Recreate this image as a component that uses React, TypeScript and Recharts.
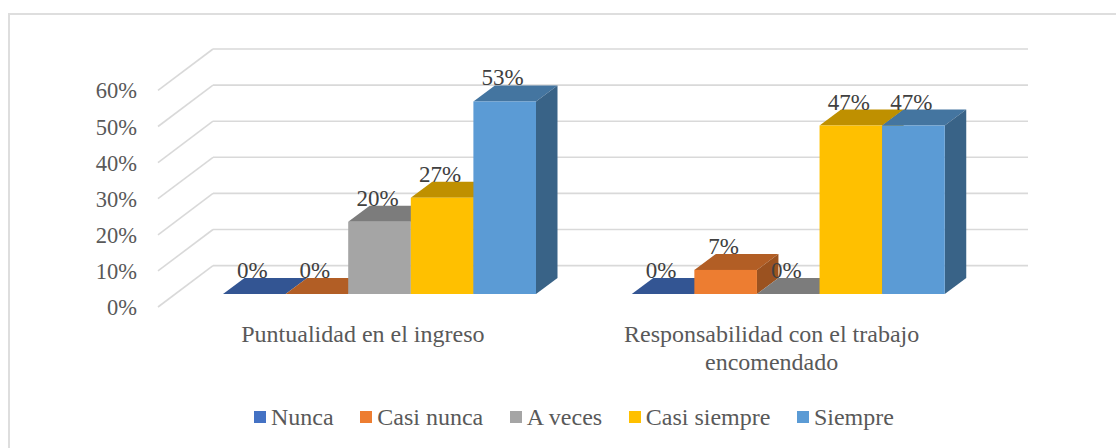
import React from "react";
import { BarChart, Bar, XAxis, YAxis, CartesianGrid, Legend } from "recharts";

const categories = ["Puntualidad en el ingreso", "Responsabilidad con el trabajo encomendado"];
const seriesNames = ["Nunca", "Casi nunca", "A veces", "Casi siempre", "Siempre"];
const nunca = [0, 0];
const casiNunca = [0, 6.67];
const aVeces = [20, 0];
const casiSiempre = [26.67, 46.67];
const siempre = [53.33, 46.67];
const yTicks = [0, 10, 20, 30, 40, 50, 60];
const frontColors = ["#4472C4", "#ED7D31", "#A5A5A5", "#FFC000", "#5B9BD5"];
const topColors = ["#335593", "#B25E25", "#7C7C7C", "#BF9000", "#4475A0"];
const sideColors = ["#2B4A80", "#9B5220", "#6C6C6C", "#A67D00", "#396387"];

const seriesValues = [nunca, casiNunca, aVeces, casiSiempre, siempre];
const data = categories.map((name, i) => {
  const row: Record<string, string | number> = { name };
  seriesNames.forEach((s, j) => {
    row[s] = seriesValues[j][i];
  });
  return row;
});

const SERIF = "'Liberation Serif', 'Times New Roman', serif";
const DX = 21.5;
const DY = 16;

const makeShape = (idx: number) => (p: any) => {
  const { x, y, width, height } = p;
  const h = Math.max(height, 0);
  return (
    <g>
      <polygon
        points={`${x},${y} ${x + DX},${y - DY} ${x + width + DX},${y - DY} ${x + width},${y}`}
        fill={topColors[idx]}
      />
      {h > 0 && (
        <polygon
          points={`${x + width},${y} ${x + width + DX},${y - DY} ${x + width + DX},${y + h - DY} ${x + width},${y + h}`}
          fill={sideColors[idx]}
        />
      )}
      {h > 0 && <rect x={x} y={y} width={width} height={h} fill={frontColors[idx]} />}
    </g>
  );
};

const renderLabel = (p: any) => (
  <text
    x={p.x + p.width / 2 - 2}
    y={p.y - 16}
    textAnchor="middle"
    fontFamily={SERIF}
    fontSize={23}
    fill="#404040"
  >
    {`${Math.round(p.value)}%`}
  </text>
);

const gridLine = (p: any) => {
  const { y1 } = p;
  return (
    <g key={p.key ?? y1}>
      <line x1={158} y1={y1 + 13} x2={213} y2={y1 - 28.4} stroke="#D9D9D9" strokeWidth={1.6} />
      <line x1={213} y1={y1 - 28.4} x2={1028} y2={y1 - 28.4} stroke="#D9D9D9" strokeWidth={1.6} />
    </g>
  );
};

const YTick = (p: any) => (
  <text x={137} y={p.y + 21} textAnchor="end" fontFamily={SERIF} fontSize={22.5} fill="#595959">
    {`${p.payload.value}%`}
  </text>
);

const wrapWords = (s: string, limit: number) => {
  const lines: string[] = [];
  let cur = "";
  s.split(" ").forEach((w) => {
    if (cur && (cur + " " + w).length > limit) {
      lines.push(cur);
      cur = w;
    } else cur = cur ? cur + " " + w : w;
  });
  if (cur) lines.push(cur);
  return lines;
};

const XTick = (p: any) => (
  <text textAnchor="middle" fontFamily={SERIF} fontSize={24} fill="#595959">
    {wrapWords(p.payload.value, 33).map((l, i) => (
      <tspan key={i} x={p.x - 16.5} y={342 + i * 28}>
        {l}
      </tspan>
    ))}
  </text>
);

const renderLegend = (props: any) => (
  <div style={{ display: "flex", gap: 26.6, fontFamily: SERIF, fontSize: 24, color: "#595959", lineHeight: "28px", whiteSpace: "nowrap" }}>
    {props.payload.map((e: any, i: number) => (
      <div key={i} style={{ display: "flex", alignItems: "center" }}>
        <span style={{ display: "inline-block", width: 12, height: 12, background: e.color, marginRight: 5 }} />
        <span>{e.value}</span>
      </div>
    ))}
  </div>
);

export default function App() {
  return (
    <div style={{ position: "absolute", left: 0, top: 0, width: 1116, height: 448, overflow: "hidden", background: "#fff" }}>
      <div
        style={{
          position: "absolute",
          left: 8,
          top: 13,
          width: 1108,
          height: 435,
          boxSizing: "border-box",
          borderTop: "2px solid #DEDEDE",
          borderLeft: "2px solid #DEDEDE",
        }}
      />
      <BarChart
        width={1116}
        height={448}
        data={data}
        margin={{ top: 77.4, right: 123.5, bottom: 124, left: 0 }}
        barGap={0}
        barSize={62.6}
        style={{ position: "absolute", left: 0, top: 0 }}
      >
        <CartesianGrid vertical={false} horizontal={gridLine} />
        <XAxis dataKey="name" axisLine={false} tickLine={false} height={30} interval={0} tick={XTick} />
        <YAxis width={175} domain={[0, 60]} ticks={yTicks} interval={0} axisLine={false} tickLine={false} tick={YTick} />
        {seriesNames.map((s, i) => (
          <Bar key={s} dataKey={s} fill={frontColors[i]} isAnimationActive={false} shape={makeShape(i)} label={renderLabel} />
        ))}
        <Legend
          layout="horizontal"
          verticalAlign="middle"
          align="center"
          itemSorter={null}
          content={renderLegend}
          wrapperStyle={{ left: 254, top: 403, width: 720, bottom: "auto", right: "auto" }}
        />
      </BarChart>
    </div>
  );
}
